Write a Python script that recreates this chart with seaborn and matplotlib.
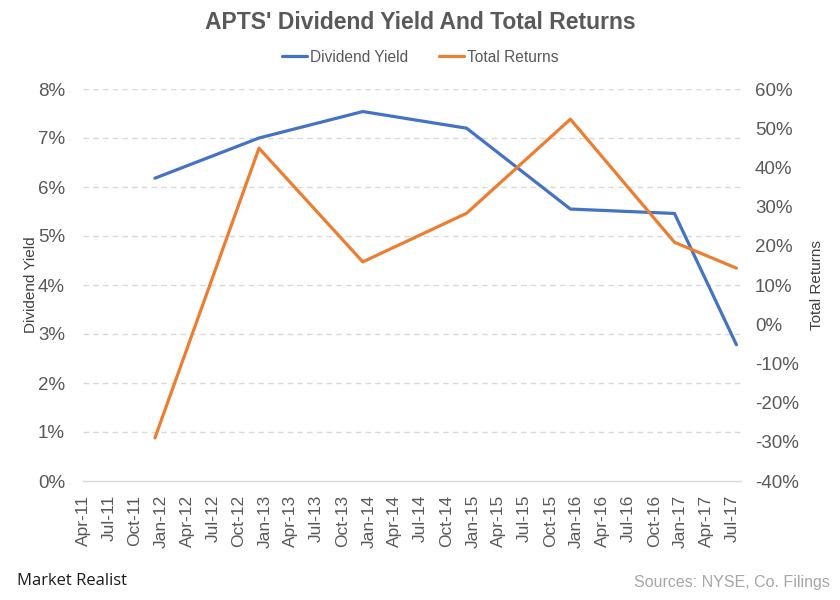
#!/usr/bin/env python3
"""APTS dividend yield and total returns, dual axis line chart."""

import matplotlib
matplotlib.use("Agg")
import matplotlib.pyplot as plt
import matplotlib.dates as mdates
import matplotlib.ticker as mticker
import pandas as pd
import seaborn as sns

# Data
dates = ["2011-12-10", "2012-12-10", "2013-12-10", "2014-12-10",
         "2015-12-10", "2016-12-10", "2017-07-16"]
dividend_yield = [6.18, 7.00, 7.54, 7.20, 5.55, 5.46, 2.78]   # %
total_returns = [-29.0, 44.9, 15.9, 28.3, 52.3, 20.9, 14.3]   # %

x_start, x_end = "2011-04-01", "2017-08-01"

BLUE = "#4472C4"
ORANGE = "#ED7D31"
TEXT = "#595959"
GRID = "#D9D9D9"

df = pd.DataFrame({
    "date": pd.to_datetime(dates),
    "Dividend Yield": dividend_yield,
    "Total Returns": total_returns,
})

sns.set_style("white")
plt.rcParams["font.family"] = ["Liberation Sans", "DejaVu Sans"]

fig = plt.figure(figsize=(8.4, 6), dpi=100)
ax = fig.add_axes([83 / 840, 1 - 481 / 600, (741 - 83) / 840, (481 - 89) / 600])
ax2 = ax.twinx()

sns.lineplot(data=df, x="date", y="Dividend Yield", ax=ax, color=BLUE,
             linewidth=2.3, label="Dividend Yield", legend=False)
sns.lineplot(data=df, x="date", y="Total Returns", ax=ax2, color=ORANGE,
             linewidth=2.3, label="Total Returns", legend=False)

ax.set_xlim(pd.Timestamp(x_start), pd.Timestamp(x_end))
ax.set_ylim(0, 8)
ax2.set_ylim(-40, 60)
ax.yaxis.set_major_locator(mticker.MultipleLocator(1))
ax2.yaxis.set_major_locator(mticker.MultipleLocator(10))
ax.yaxis.set_major_formatter(mticker.FuncFormatter(lambda v, _: f"{v:.0f}%"))
ax2.yaxis.set_major_formatter(mticker.FuncFormatter(lambda v, _: f"{v:.0f}%"))

ax.xaxis.set_major_locator(mdates.MonthLocator(bymonth=[1, 4, 7, 10]))
ax.xaxis.set_major_formatter(mdates.DateFormatter("%b-%y"))

# grid: dashed on the left axis ticks, skip 0 (axis line there)
ax.grid(False)
ax2.grid(False)
for v in range(1, 9):
    ax.axhline(v, color=GRID, linestyle=(0, (4, 3)), linewidth=1, zorder=0)

for a in (ax, ax2):
    for s in a.spines.values():
        s.set_visible(False)
ax.spines["bottom"].set_visible(True)
ax.spines["bottom"].set_color(GRID)
ax.spines["bottom"].set_linewidth(1)

ax.tick_params(axis="x", which="major", length=5, width=1, color=GRID,
               pad=5, labelsize=12.5, labelcolor=TEXT, labelrotation=90)
ax.tick_params(axis="y", length=0, pad=13, labelsize=13.5, labelcolor=TEXT)
ax2.tick_params(axis="y", length=0, pad=10, labelsize=13.5, labelcolor=TEXT)

ax.set_xlabel("")
ax.set_ylabel("Dividend Yield", fontsize=11, color="#404040", labelpad=0)
ax2.set_ylabel("Total Returns", fontsize=11, color="#404040", labelpad=8)

fig.text(0.5, 0.962, "APTS' Dividend Yield And Total Returns",
         ha="center", va="center", fontsize=16.5, fontweight="bold", color=TEXT)

h1, l1 = ax.get_legend_handles_labels()
h2, l2 = ax2.get_legend_handles_labels()
fig.legend(h1 + h2, l1 + l2, loc="center", bbox_to_anchor=(0.5, 0.905),
           ncol=2, frameon=False, fontsize=11.2, labelcolor=TEXT,
           handlelength=1.6, handletextpad=0.2, columnspacing=2.0)

fig.text(0.02, 0.032, "Market Realist", ha="left", va="center",
         fontsize=12, color="#1a1a1a", family=["Open Sans", "DejaVu Sans"])
fig.text(0.988, 0.03, "Sources: NYSE, Co. Filings", ha="right", va="center",
         fontsize=11.5, color="#A6A6A6")

fig.savefig("out.png", dpi=100)
